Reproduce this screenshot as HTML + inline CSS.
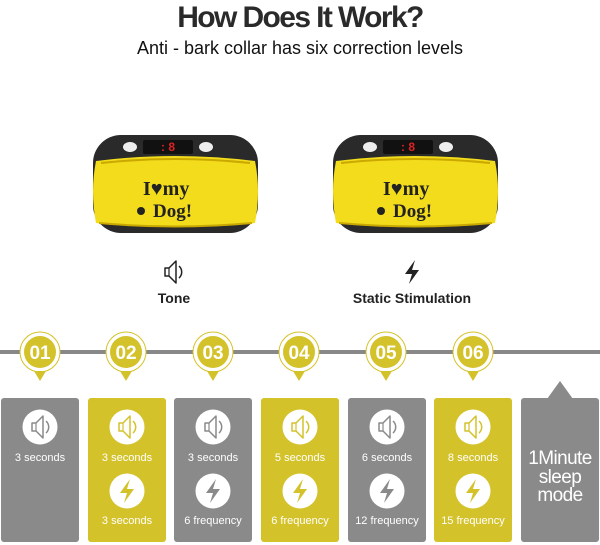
<!DOCTYPE html>
<html><head><meta charset="utf-8"><style>
html,body{margin:0;padding:0;background:#fff;width:600px;height:545px;overflow:hidden}
svg{display:block}
</style></head><body>
<svg width="600" height="545" viewBox="0 0 600 545" xmlns="http://www.w3.org/2000/svg" font-family="Liberation Sans, sans-serif">
<defs>
<g id="spk"><path d="M-8,-4 h4 l7,-7 v22 l-7,-7 h-4 z" fill="none" stroke-width="1.5" stroke-linejoin="round"/><path d="M-4,-4 v8" fill="none" stroke-width="1.2"/><path d="M6,-6 a8,8 0 0 1 0,12" fill="none" stroke-width="1.5"/></g>
<g id="bolt"><path d="M3,-12 L-7,2 H0 L-3,12 L7,-2 H0 Z"/></g>
<g id="dev">
<rect x="0" y="0" width="165" height="98" rx="28" fill="#2a2a2a"/>
<path d="M3,26 Q82,16 162,26 Q168,56 162,88 Q82,96 3,88 Q-3,56 3,26 Z" fill="#f2dc1c"/>
<path d="M8,28 Q82,20 157,28" stroke="#caa800" stroke-width="2" fill="none"/>
<path d="M6,88 Q82,95 159,88" stroke="#c9a900" stroke-width="2" fill="none"/>
<rect x="50" y="5" width="50" height="14" rx="2" fill="#111"/>
<text x="75" y="16" fill="#d22" font-size="12" font-weight="bold" text-anchor="middle">: 8</text>
<ellipse cx="37" cy="12" rx="7" ry="5" fill="#eee"/><ellipse cx="113" cy="12" rx="7" ry="5" fill="#eee"/>
<text x="50" y="60" font-size="20" font-weight="bold" fill="#222" font-family="Liberation Serif, serif">I♥my</text>
<text x="60" y="82" font-size="19" font-weight="bold" fill="#222" font-family="Liberation Serif, serif">Dog!</text>
<circle cx="48" cy="76" r="4" fill="#222"/>
</g>
</defs>
<text x="300" y="27" text-anchor="middle" font-size="30" font-weight="bold" fill="#2a2a2a" letter-spacing="-1.6">How Does It Work?</text>
<text x="300" y="54" text-anchor="middle" font-size="18" fill="#111">Anti - bark collar has six correction levels</text>
<use href="#dev" x="93" y="135"/>
<use href="#dev" x="333" y="135"/>
<use href="#spk" x="173" y="272" stroke="#222"/>
<use href="#bolt" x="412" y="272" fill="#222"/>
<text x="174" y="303" text-anchor="middle" font-size="14" font-weight="bold" fill="#222">Tone</text>
<text x="412" y="303" text-anchor="middle" font-size="14" font-weight="bold" fill="#222">Static Stimulation</text>
<rect x="0" y="350" width="600" height="4" fill="#888"/>
<g>
<rect x="1" y="398" width="78" height="144" rx="3" fill="#8a8a8a"/>
<rect x="88" y="398" width="78" height="144" rx="3" fill="#d4c22a"/>
<rect x="174" y="398" width="78" height="144" rx="3" fill="#8a8a8a"/>
<rect x="261" y="398" width="78" height="144" rx="3" fill="#d4c22a"/>
<rect x="348" y="398" width="78" height="144" rx="3" fill="#8a8a8a"/>
<rect x="434" y="398" width="78" height="144" rx="3" fill="#d4c22a"/>
<rect x="521" y="398" width="78" height="144" rx="3" fill="#8a8a8a"/>
<path d="M547,399 L560,381 L573,399 Z" fill="#8a8a8a"/>
</g>
<g font-size="19" font-weight="bold" text-anchor="middle" fill="#fff">
<g transform="translate(40,352)"><circle r="20" fill="#fff" stroke="#d4c22a" stroke-width="1"/><circle r="16" fill="#d4c22a"/><path d="M-6,19 L0,29 L6,19Z" fill="#d4c22a"/><text y="7">01</text></g>
<g transform="translate(126,352)"><circle r="20" fill="#fff" stroke="#d4c22a" stroke-width="1"/><circle r="16" fill="#d4c22a"/><path d="M-6,19 L0,29 L6,19Z" fill="#d4c22a"/><text y="7">02</text></g>
<g transform="translate(213,352)"><circle r="20" fill="#fff" stroke="#d4c22a" stroke-width="1"/><circle r="16" fill="#d4c22a"/><path d="M-6,19 L0,29 L6,19Z" fill="#d4c22a"/><text y="7">03</text></g>
<g transform="translate(299,352)"><circle r="20" fill="#fff" stroke="#d4c22a" stroke-width="1"/><circle r="16" fill="#d4c22a"/><path d="M-6,19 L0,29 L6,19Z" fill="#d4c22a"/><text y="7">04</text></g>
<g transform="translate(386,352)"><circle r="20" fill="#fff" stroke="#d4c22a" stroke-width="1"/><circle r="16" fill="#d4c22a"/><path d="M-6,19 L0,29 L6,19Z" fill="#d4c22a"/><text y="7">05</text></g>
<g transform="translate(473,352)"><circle r="20" fill="#fff" stroke="#d4c22a" stroke-width="1"/><circle r="16" fill="#d4c22a"/><path d="M-6,19 L0,29 L6,19Z" fill="#d4c22a"/><text y="7">06</text></g>
</g>
<g fill="#fff">
<circle cx="40" cy="427" r="17.5"/><circle cx="127" cy="427" r="17.5"/><circle cx="213" cy="427" r="17.5"/><circle cx="300" cy="427" r="17.5"/><circle cx="387" cy="427" r="17.5"/><circle cx="473" cy="427" r="17.5"/>
<circle cx="127" cy="491" r="17.5"/><circle cx="213" cy="491" r="17.5"/><circle cx="300" cy="491" r="17.5"/><circle cx="387" cy="491" r="17.5"/><circle cx="473" cy="491" r="17.5"/>
</g>
<use href="#spk" x="40" y="427" stroke="#8a8a8a"/>
<use href="#spk" x="127" y="427" stroke="#d4c22a"/>
<use href="#spk" x="213" y="427" stroke="#8a8a8a"/>
<use href="#spk" x="300" y="427" stroke="#d4c22a"/>
<use href="#spk" x="387" y="427" stroke="#8a8a8a"/>
<use href="#spk" x="473" y="427" stroke="#d4c22a"/>
<use href="#bolt" x="127" y="491" fill="#d4c22a"/>
<use href="#bolt" x="213" y="491" fill="#8a8a8a"/>
<use href="#bolt" x="300" y="491" fill="#d4c22a"/>
<use href="#bolt" x="387" y="491" fill="#8a8a8a"/>
<use href="#bolt" x="473" y="491" fill="#d4c22a"/>
<g font-size="11" text-anchor="middle" fill="#fff">
<text x="40" y="461">3 seconds</text>
<text x="127" y="461">3 seconds</text><text x="127" y="524">3 seconds</text>
<text x="213" y="461">3 seconds</text><text x="213" y="524">6 frequency</text>
<text x="300" y="461">5 seconds</text><text x="300" y="524">6 frequency</text>
<text x="387" y="461">6 seconds</text><text x="387" y="524">12 frequency</text>
<text x="473" y="461">8 seconds</text><text x="473" y="524">15 frequency</text>
</g>
<g font-size="19" text-anchor="middle" fill="#fff" letter-spacing="-0.6">
<text x="560" y="464">1Minute</text>
<text x="560" y="483">sleep</text>
<text x="560" y="501">mode</text>
</g>
</svg>
</body></html>
